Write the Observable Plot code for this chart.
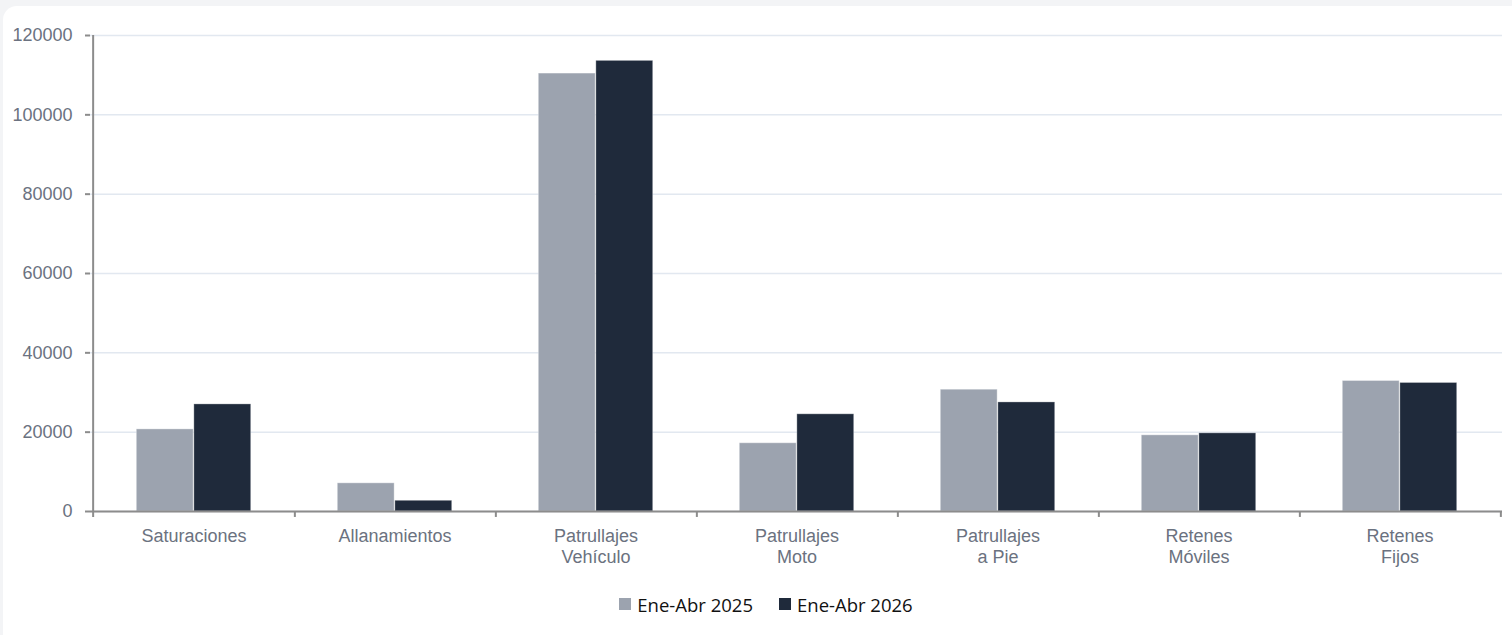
<!DOCTYPE html>
<html>
<head>
<meta charset="utf-8">
<script src="https://cdn.jsdelivr.net/npm/d3@7"></script>
<script src="https://cdn.jsdelivr.net/npm/@observablehq/plot@0.6"></script>
<style>
  html, body { margin: 0; padding: 0; background: #f3f4f6; width: 1512px; height: 635px; overflow: hidden; }
  #card { position: absolute; left: 3px; top: 6px; width: 1530px; height: 650px; background: #ffffff; border-radius: 14px; }
  #chart { position: absolute; left: 0; top: 0; }
  #legend { position: absolute; left: 0; top: 590px; width: 1532px; text-align: center; font-family: "Open Sans", "Noto Sans", sans-serif; font-size: 18.5px; color: #111; }
  #legend span.item { display: inline-flex; align-items: center; margin: 0 13px; }
  #legend span.sw { display: inline-block; width: 12px; height: 12px; margin-right: 6px; }
</style>
</head>
<body>
<div id="card"></div>
<div id="chart"></div>
<div id="legend"></div>
<script>
const categories = ["Saturaciones", "Allanamientos", "Patrullajes Vehículo", "Patrullajes Moto", "Patrullajes a Pie", "Retenes Móviles", "Retenes Fijos"];
const categoryLabels = ["Saturaciones", "Allanamientos", "Patrullajes\nVehículo", "Patrullajes\nMoto", "Patrullajes\na Pie", "Retenes\nMóviles", "Retenes\nFijos"];
const seriesNames = ["Ene-Abr 2025", "Ene-Abr 2026"];
const values2025 = [20700, 7100, 110400, 17200, 30700, 19200, 32900];
const values2026 = [27000, 2700, 113600, 24500, 27500, 19700, 32400];
const yTicks = [0, 20000, 40000, 60000, 80000, 100000, 120000];
const colors = ["#9ca3af", "#1f2a3b"];

const data = categories.flatMap((c, i) => [
  {category: c, series: seriesNames[0], value: values2025[i]},
  {category: c, series: seriesNames[1], value: values2026[i]}
]);

const W = 1512, H = 580, mL = 90, mR = 10, mT = 35, mB = 69;
const step = (W - mL - mR) / categories.length;
const outer = 43.3;
const barW = (step - 2 * outer) / 2;
const labelOf = Object.fromEntries(categories.map((c, i) => [c, categoryLabels[i]]));

const chart = Plot.plot({
  width: W,
  height: H,
  marginLeft: mL,
  marginRight: mR,
  marginTop: mT,
  marginBottom: mB,
  style: {fontFamily: "'Liberation Sans', Arial, sans-serif", fontSize: "18px", background: "transparent", overflow: "visible"},
  x: {type: "band", domain: categories, padding: 0, label: null},
  y: {domain: [0, 120000], label: null},
  marks: [
    Plot.gridY(yTicks, {stroke: "#e2e8f0", strokeOpacity: 1, strokeWidth: 1.5}),
    Plot.barY(data.filter(d => d.series === seriesNames[0]), {
      x: "category", y: "value", fill: colors[0],
      insetLeft: outer, insetRight: outer + barW,
      stroke: "#ffffff", strokeOpacity: 0.35, strokeWidth: 1
    }),
    Plot.barY(data.filter(d => d.series === seriesNames[1]), {
      x: "category", y: "value", fill: colors[1],
      insetLeft: outer + barW, insetRight: outer,
      stroke: "#ffffff", strokeOpacity: 0.3, strokeWidth: 1
    }),
    Plot.ruleY([0], {stroke: "#8c8c8c", strokeWidth: 2}),
    Plot.ruleX([categories[0]], {x: d => d, dx: -step / 2, y1: -1500, y2: 120000, stroke: "#8c8c8c", strokeWidth: 2}),
    Plot.ruleX(categories, {x: d => d, dx: step / 2, y1: -1500, y2: 0, stroke: "#8c8c8c", strokeWidth: 2}),
    Plot.axisY(yTicks, {
      tickSize: 5, tickPadding: 13, stroke: "#8c8c8c", strokeWidth: 2,
      fill: "#6b7280", fontSize: 18, tickFormat: d => String(d), label: null
    }),
    Plot.axisX({
      tickSize: 0, tickPadding: 15, fill: "#6b7280", fontSize: 18, lineHeight: 1.2,
      tickFormat: d => labelOf[d], label: null
    })
  ]
});
document.getElementById("chart").appendChild(chart);

const legend = document.getElementById("legend");
seriesNames.forEach((name, i) => {
  const item = document.createElement("span");
  item.className = "item";
  const sw = document.createElement("span");
  sw.className = "sw";
  sw.style.background = colors[i];
  item.appendChild(sw);
  item.appendChild(document.createTextNode(name));
  legend.appendChild(item);
});
</script>
</body>
</html>
